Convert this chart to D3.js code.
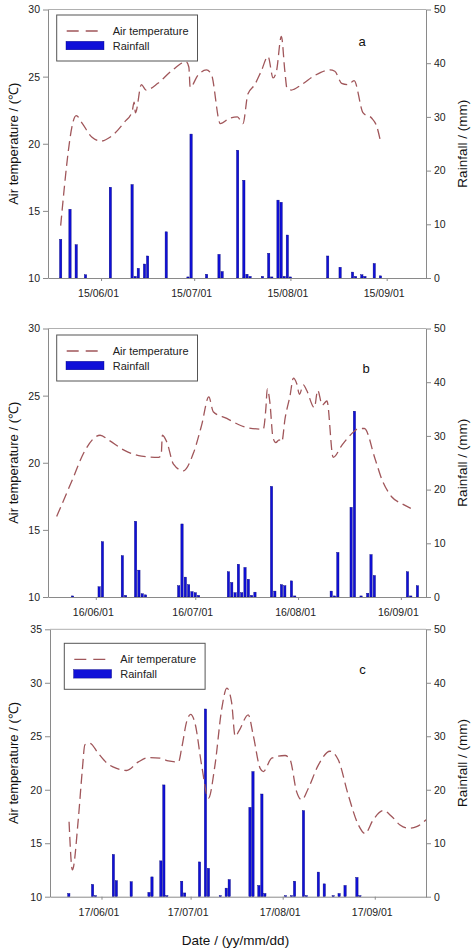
<!DOCTYPE html>
<html><head><meta charset="utf-8">
<script src="https://cdn.jsdelivr.net/npm/d3@7"></script>
<style>
body{margin:0;background:#fff}
svg{display:block}
text{font-family:"Liberation Sans",Arial,Helvetica,sans-serif}
</style>
</head><body>
<svg id="chart" width="474" height="950"></svg>
<script>
// ---------- DATA ----------
const tempTicksAB = [10, 15, 20, 25, 30];
const tempTicksC = [10, 15, 20, 25, 30, 35];
const rainTicks = [0, 10, 20, 30, 40, 50];

const xTickDatesA = ["2015-06-01", "2015-07-01", "2015-08-01", "2015-09-01"];
const xTickLabelsA = ["15/06/01", "15/07/01", "15/08/01", "15/09/01"];
const xTickDatesB = ["2016-06-01", "2016-07-01", "2016-08-01", "2016-09-01"];
const xTickLabelsB = ["16/06/01", "16/07/01", "16/08/01", "16/09/01"];
const xTickDatesC = ["2017-06-01", "2017-07-01", "2017-08-01", "2017-09-01"];
const xTickLabelsC = ["17/06/01", "17/07/01", "17/08/01", "17/09/01"];

// Panel a (2015)
const rainDatesA = ["2015-05-19","2015-05-22","2015-05-24","2015-05-27","2015-06-04","2015-06-11","2015-06-12","2015-06-13","2015-06-15","2015-06-16","2015-06-22","2015-06-29","2015-06-30","2015-07-05","2015-07-09","2015-07-10","2015-07-15","2015-07-17","2015-07-18","2015-07-19","2015-07-23","2015-07-25","2015-07-26","2015-07-28","2015-07-29","2015-07-30","2015-07-31","2015-08-01","2015-08-13","2015-08-17","2015-08-21","2015-08-22","2015-08-24","2015-08-25","2015-08-28","2015-08-30"];
const rainValuesA = [7.2,12.8,6.2,0.6,16.9,17.4,0.3,1.8,2.6,4.1,8.6,0.2,26.8,0.7,4.4,1.2,23.8,18.2,0.7,0.3,0.3,4.6,0.2,14.5,14.1,0.3,8.0,0.2,4.1,2.0,1.1,0.3,0.6,0.3,2.7,0.4];
const tempDatesA = ["2015-05-19 00","2015-05-24 00","2015-05-26 00","2015-05-29 00","2015-06-01 00","2015-06-04 00","2015-06-08 12","2015-06-11 00","2015-06-11 16","2015-06-12 02","2015-06-14 00","2015-06-15 12","2015-06-19 07","2015-06-23 14","2015-06-28 10","2015-06-29 07","2015-06-29 17","2015-07-02 05","2015-07-04 22","2015-07-06 12","2015-07-09 10","2015-07-12 10","2015-07-14 22","2015-07-16 17","2015-07-18 07","2015-07-20 12","2015-07-22 14","2015-07-24 19","2015-07-26 10","2015-07-27 12","2015-07-29 02","2015-07-30 05","2015-07-30 22","2015-08-01 07","2015-08-04 14","2015-08-08 22","2015-08-13 17","2015-08-15 07","2015-08-17 12","2015-08-19 14","2015-08-21 12","2015-08-24 10","2015-08-27 05","2015-08-28 19","2015-08-30 02"];
const tempValuesA = [13.9,22.1,21.5,20.5,20.2,20.5,21.6,22.4,23.1,22.3,24.4,24.0,24.5,25.4,26.1,25.7,24.2,25.1,25.5,25.2,21.5,21.9,22.0,21.5,23.7,24.4,25.4,26.5,24.9,25.4,28.0,25.4,24.1,24.0,24.4,25.1,25.5,25.4,24.5,24.4,24.7,22.3,21.9,21.3,20.1];

// Panel b (2016)
const rainDatesB = ["2016-05-25","2016-06-02","2016-06-03","2016-06-09","2016-06-10","2016-06-13","2016-06-14","2016-06-15","2016-06-16","2016-06-26","2016-06-27","2016-06-28","2016-06-29","2016-06-30","2016-07-01","2016-07-02","2016-07-11","2016-07-12","2016-07-13","2016-07-14","2016-07-15","2016-07-16","2016-07-17","2016-07-18","2016-07-19","2016-07-24","2016-07-25","2016-07-27","2016-07-28","2016-07-30","2016-07-31","2016-08-11","2016-08-12","2016-08-13","2016-08-17","2016-08-18","2016-08-20","2016-08-22","2016-08-23","2016-08-24","2016-09-03","2016-09-04","2016-09-06"];
const rainValuesB = [0.2,1.9,10.3,7.7,0.3,14.1,5.0,0.6,0.4,2.1,13.6,3.7,2.3,1.0,0.8,0.3,4.7,2.7,0.8,6.1,0.8,5.5,3.3,0.3,0.9,20.6,1.1,2.3,2.1,3.0,0.2,1.1,0.2,8.3,16.7,34.6,0.2,0.7,7.9,4.0,4.7,0.2,2.1];
const tempDatesB = ["2016-05-20 05","2016-05-24 17","2016-05-28 17","2016-05-31 19","2016-06-02 07","2016-06-04 19","2016-06-09 19","2016-06-14 19","2016-06-19 22","2016-06-20 17","2016-06-21 02","2016-06-22 10","2016-06-24 10","2016-06-27 10","2016-06-30 10","2016-07-02 22","2016-07-05 02","2016-07-06 10","2016-07-10 12","2016-07-14 00","2016-07-17 00","2016-07-21 12","2016-07-22 07","2016-07-22 17","2016-07-23 12","2016-07-24 10","2016-07-25 07","2016-07-26 07","2016-07-27 02","2016-07-28 02","2016-07-29 14","2016-07-30 14","2016-07-31 14","2016-08-01 10","2016-08-02 14","2016-08-03 14","2016-08-05 22","2016-08-06 22","2016-08-08 07","2016-08-09 17","2016-08-11 14","2016-08-14 05","2016-08-16 17","2016-08-19 10","2016-08-21 00","2016-08-24 05","2016-08-26 05","2016-08-29 07","2016-09-01 07","2016-09-04 00"];
const tempValuesB = [16.0,18.6,20.9,21.9,22.05,21.7,20.9,20.5,20.4,20.55,22.05,21.55,19.9,19.4,20.7,22.8,24.9,23.8,23.3,22.85,22.6,22.5,24.05,25.5,24.5,21.9,21.5,21.7,21.55,23.3,25.0,26.3,25.9,25.1,25.8,25.4,24.1,25.4,24.3,24.6,20.4,21.3,22.05,22.55,22.55,20.3,18.8,17.45,16.95,16.6];

// Panel c (2017)
const rainDatesC = ["2017-05-21","2017-05-29","2017-05-30","2017-06-05","2017-06-06","2017-06-11","2017-06-17","2017-06-18","2017-06-21","2017-06-22","2017-06-23","2017-06-28","2017-06-29","2017-07-04","2017-07-06","2017-07-07","2017-07-11","2017-07-13","2017-07-14","2017-07-21","2017-07-22","2017-07-24","2017-07-25","2017-07-26","2017-08-02","2017-08-04","2017-08-05","2017-08-08","2017-08-09","2017-08-13","2017-08-15","2017-08-18","2017-08-20","2017-08-22","2017-08-26","2017-08-27"];
const rainValuesC = [0.6,2.3,0.2,7.9,3.0,2.8,0.8,3.7,6.7,20.9,0.2,2.9,0.7,6.5,35.1,5.3,0.2,1.6,3.2,16.7,23.4,2.1,19.2,0.6,0.2,0.2,2.9,16.1,0.2,4.6,2.4,0.2,0.6,2.1,3.6,0.2];
const tempDatesC = ["2017-05-21 02","2017-05-22 05","2017-05-24 05","2017-05-25 12","2017-05-26 10","2017-05-28 02","2017-05-30 22","2017-06-02 19","2017-06-06 02","2017-06-09 12","2017-06-13 10","2017-06-16 19","2017-06-20 17","2017-06-23 12","2017-06-26 22","2017-06-28 00","2017-06-29 17","2017-07-01 00","2017-07-02 12","2017-07-04 17","2017-07-07 00","2017-07-09 05","2017-07-11 12","2017-07-13 05","2017-07-14 19","2017-07-16 00","2017-07-17 07","2017-07-20 10","2017-07-22 02","2017-07-24 10","2017-07-25 12","2017-07-28 07","2017-08-01 19","2017-08-03 12","2017-08-05 17","2017-08-07 10","2017-08-09 14","2017-08-13 00","2017-08-16 22","2017-08-19 17","2017-08-23 02","2017-08-26 12","2017-08-28 17","2017-08-31 12","2017-09-03 22","2017-09-06 17","2017-09-09 12","2017-09-12 07","2017-09-15 02","2017-09-18 07"];
const tempValuesC = [17.0,12.5,17.3,21.7,24.2,24.35,23.4,22.5,22.0,21.8,22.6,23.0,22.95,22.7,22.6,23.9,26.4,27.05,26.2,22.3,19.2,22.3,27.6,29.5,28.2,25.0,25.5,27.0,25.1,22.0,21.7,22.95,23.2,22.8,19.8,19.05,20.1,22.3,23.6,22.8,19.5,16.7,15.9,17.2,18.05,17.5,16.7,16.4,16.55,17.2];

const legendLabels = ["Air temperature", "Rainfall"];
const panelLetters = ["a", "b", "c"];

// ---------- RENDER ----------
const parseDay = d3.timeParse("%Y-%m-%d");
const parseHour = d3.timeParse("%Y-%m-%d %H");
const svg = d3.select("#chart");

const COL_TEMP = "#a0565a";
const COL_BAR = "#1010d8";
const COL_BAR_EDGE = "#00007a";
const COL_AXIS = "#8a8a8a";
const COL_TXT = "#222";

const panels = [
  {letter: panelLetters[0], rd: rainDatesA, rv: rainValuesA, td: tempDatesA, tv: tempValuesA,
   tTicks: tempTicksAB, tDom: [10, 30], xDom: ["2015-05-14 22", "2015-09-13 16"],
   xt: xTickDatesA, xl: xTickLabelsA,
   L: 48, R: 426, T: 9.5, B: 278, leg: [56.7, 15], lab: [362, 46]},
  {letter: panelLetters[1], rd: rainDatesB, rv: rainValuesB, td: tempDatesB, tv: tempValuesB,
   tTicks: tempTicksAB, tDom: [10, 30], xDom: ["2016-05-17 14", "2016-09-08 14"],
   xt: xTickDatesB, xl: xTickLabelsB,
   L: 48, R: 426, T: 328.5, B: 597, leg: [56.7, 335], lab: [366, 373]},
  {letter: panelLetters[2], rd: rainDatesC, rv: rainValuesC, td: tempDatesC, tv: tempValuesC,
   tTicks: tempTicksC, tDom: [10, 35], xDom: ["2017-05-14 16", "2017-09-18 06"],
   xt: xTickDatesC, xl: xTickLabelsC,
   L: 50, R: 426, T: 629.3, B: 896.7, leg: [64.3, 643.3], lab: [362.5, 674]}
];

panels.forEach((p, pi) => {
  const g = svg.append("g");
  const x = d3.scaleTime().domain(p.xDom.map(parseHour)).range([p.L, p.R]);
  const yT = d3.scaleLinear().domain(p.tDom).range([p.B, p.T]);
  const yR = d3.scaleLinear().domain([0, 50]).range([p.B, p.T]);

  // top frame line
  g.append("line").attr("x1", p.L).attr("x2", p.R).attr("y1", p.T).attr("y2", p.T)
    .attr("stroke", "#b0b0b0").attr("stroke-width", 1);

  // clip
  const clipId = "clip" + pi;
  svg.append("clipPath").attr("id", clipId).append("rect")
    .attr("x", p.L).attr("y", p.T).attr("width", p.R - p.L).attr("height", p.B - p.T);

  // bars
  const bars = p.rd.map((d, i) => ({date: parseDay(d), v: p.rv[i]}));
  g.append("g").selectAll("rect").data(bars).join("rect")
    .attr("x", d => x(d.date) - 1.15)
    .attr("width", 2.3)
    .attr("y", d => yR(d.v))
    .attr("height", d => Math.max(0.8, yR(0) - yR(d.v)))
    .attr("fill", COL_BAR).attr("stroke", COL_BAR_EDGE).attr("stroke-width", 0.4);

  // temperature line
  const temps = p.td.map((d, i) => ({date: parseHour(d), v: p.tv[i]}));
  const line = d3.line().x(d => x(d.date)).y(d => yT(d.v)).curve(d3.curveMonotoneX);
  g.append("path").datum(temps).attr("d", line)
    .attr("clip-path", `url(#${clipId})`)
    .attr("fill", "none").attr("stroke", COL_TEMP).attr("stroke-width", 1.3)
    .attr("stroke-dasharray", "10,5");

  // axes
  const styleAxis = sel => {
    sel.selectAll("path.domain").attr("stroke", COL_AXIS);
    sel.selectAll(".tick line").attr("stroke", COL_AXIS);
    sel.selectAll(".tick text").attr("fill", COL_TXT).attr("font-size", "10.5px")
      .attr("font-family", '"Liberation Sans",Arial,sans-serif');
  };
  g.append("g").attr("transform", `translate(${p.L},0)`)
    .call(d3.axisLeft(yT).tickValues(p.tTicks).tickSize(5).tickSizeOuter(0).tickPadding(3))
    .call(styleAxis);
  g.append("g").attr("transform", `translate(${p.R},0)`)
    .call(d3.axisRight(yR).tickValues(rainTicks).tickSize(5).tickSizeOuter(0).tickPadding(3))
    .call(styleAxis);
  const xTickDates = p.xt.map(parseDay);
  const xa = g.append("g").attr("transform", `translate(0,${p.B})`)
    .call(d3.axisBottom(x).tickValues(xTickDates).tickFormat((d, i) => p.xl[i])
      .tickSize(3).tickSizeOuter(0).tickPadding(8.5))
    .call(styleAxis);
  xa.selectAll(".tick text").attr("dx", -3);

  // legend
  const [lx, ly] = p.leg;
  const lg = g.append("g").attr("transform", `translate(${lx},${ly})`);
  lg.append("rect").attr("x", 0).attr("y", 0).attr("width", 140.8).attr("height", 46)
    .attr("fill", "#fff").attr("stroke", "#555").attr("stroke-width", 1);
  lg.append("line").attr("x1", 10).attr("x2", 42).attr("y1", 16).attr("y2", 16)
    .attr("stroke", COL_TEMP).attr("stroke-width", 1.3).attr("stroke-dasharray", "12,7");
  lg.append("rect").attr("x", 9.3).attr("y", 26.3).attr("width", 38).attr("height", 8.5)
    .attr("fill", COL_BAR).attr("stroke", COL_BAR_EDGE).attr("stroke-width", 0.4);
  lg.selectAll("text.leg").data(legendLabels).join("text").attr("class", "leg")
    .attr("x", 56).attr("y", (d, i) => 16 + i * 14.7).attr("dy", "0.35em")
    .attr("font-size", "11px").attr("fill", COL_TXT).text(d => d);

  // panel letter
  g.append("text").attr("x", p.lab[0]).attr("y", p.lab[1]).attr("text-anchor", "middle")
    .attr("font-size", "13px").attr("fill", "#111").text(p.letter);

  // axis titles
  const midY = (p.T + p.B) / 2;
  g.append("text").attr("transform", `translate(17.5,${midY}) rotate(-90)`)
    .attr("text-anchor", "middle").attr("font-size", "13px").attr("fill", "#111")
    .text("Air temperature / (\u2103)");
  g.append("text").attr("transform", `translate(467,${midY}) rotate(-90)`)
    .attr("text-anchor", "middle").attr("font-size", "13.5px").attr("fill", "#111")
    .text("Rainfall / (mm)");
});

svg.append("text").attr("x", 235.5).attr("y", 944.5).attr("text-anchor", "middle")
  .attr("font-size", "13.5px").attr("fill", "#111").text("Date / (yy/mm/dd)");
</script>
</body></html>
